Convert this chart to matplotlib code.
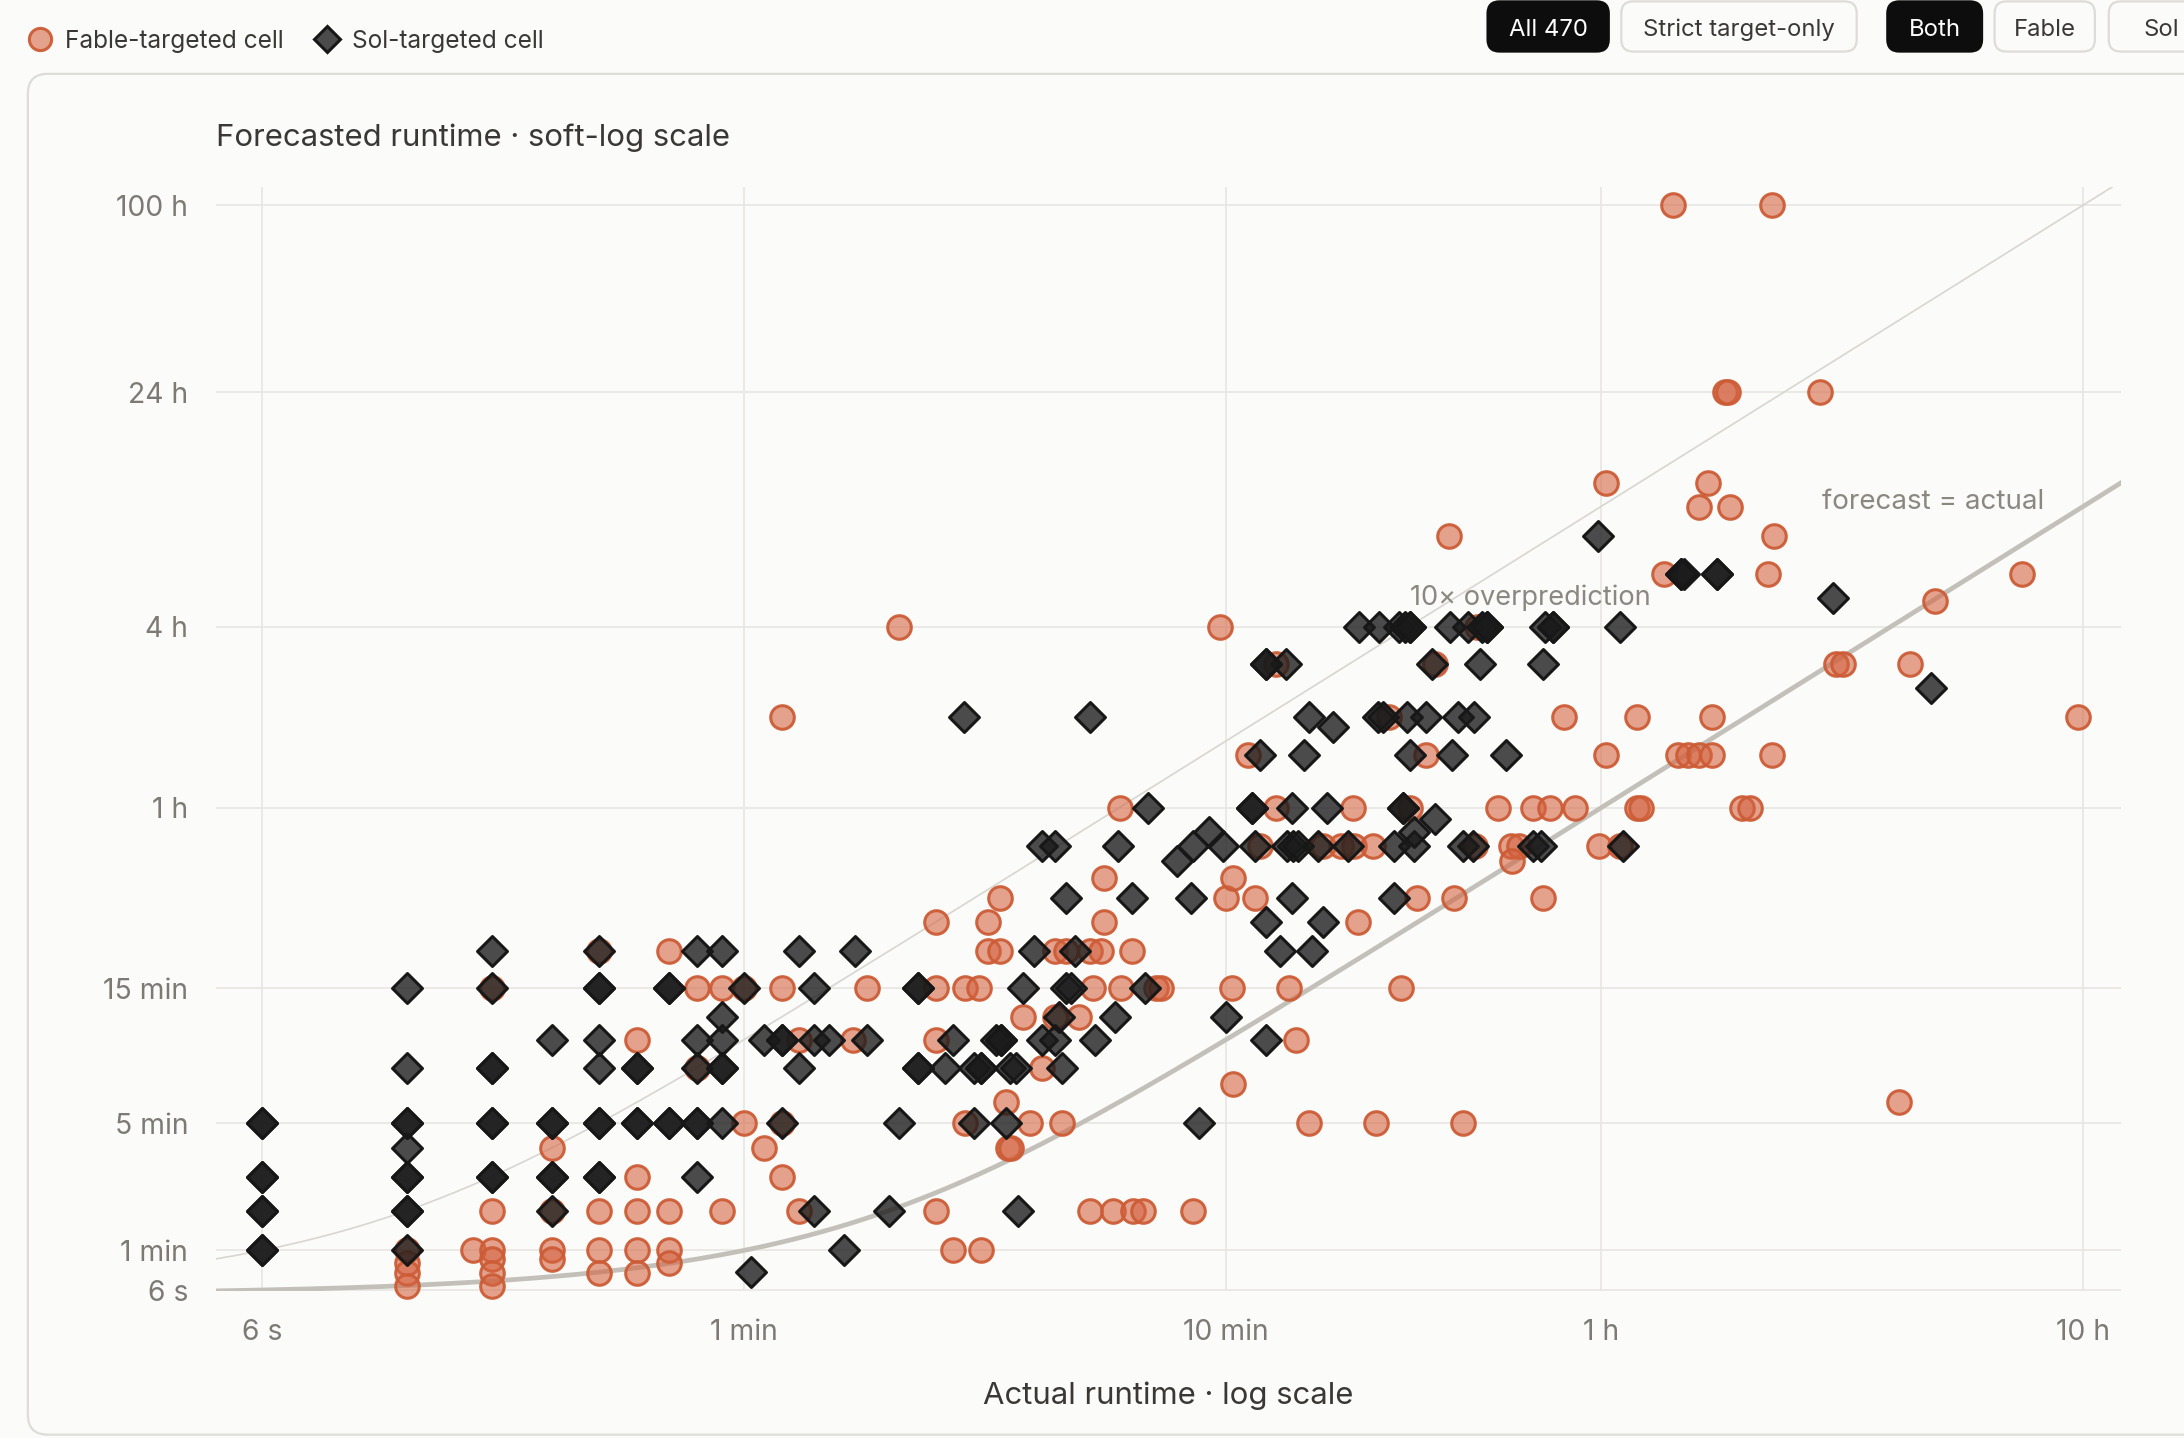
import matplotlib
matplotlib.use("Agg")
import matplotlib.pyplot as plt
from matplotlib.lines import Line2D
from matplotlib.patches import FancyBboxPatch
from matplotlib.ticker import NullLocator
import numpy as np

plt.rcParams['font.family'] = ['Inter', 'DejaVu Sans']

# ---- data (seconds) ----
fable_actual = [
    12, 12, 12, 12, 16.5, 18, 18, 18, 18, 18, 18, 24, 24, 24, 24,
    30, 30, 30, 30, 36, 36, 36, 36, 36, 42, 42, 42, 42, 48, 48, 54, 54,
    60, 60, 66, 72, 72, 72, 72, 78, 78, 101, 108, 126,
    150, 150, 150, 150, 163, 173, 173, 185, 186, 193, 193, 204, 204,
    210, 212, 215, 228, 235, 250, 265, 265, 275, 280, 298,
    313, 313, 318, 330, 336, 336, 350, 362, 363, 383, 385, 405,
    430, 440, 512, 584, 600, 617, 620, 620, 666,
    690, 708, 762, 762, 810, 838, 894,
    956, 1043, 1100, 1107, 1130, 1213, 1230,
    1307, 1387, 1445, 1494, 1565, 1631,
    1742, 1788, 1864, 1974, 1988, 2202,
    2346, 2430, 2355, 2610, 2736, 2828,
    3024, 3187, 3572, 3690, 3690, 3944,
    4275, 4275, 4360, 4880, 5082,
    5215, 5470, 5768, 6125, 5768, 6000, 6125,
    6500, 6620, 6680, 7060, 7330, 7990,
    8150, 8170, 8230, 10270, 11070, 11440,
    14930, 15750, 17770, 26900, 35200,
]
fable_forecast = [
    60, 43, 29, 12, 60, 900, 120, 60, 48, 29, 11, 240, 120, 60, 48,
    1200, 120, 60, 29, 600, 180, 120, 60, 29, 1200, 120, 60, 43, 900, 480, 900, 120,
    900, 300, 240, 7200, 900, 300, 180, 600, 120, 600, 900, 14400,
    1500, 900, 600, 120, 60, 900, 300, 900, 60, 1500, 1200, 1800, 1200,
    360, 240, 240, 720, 300, 480, 1200, 720, 300, 1200, 720,
    1200, 120, 900, 1200, 2100, 1500, 120, 3600, 900, 1200, 120, 120,
    900, 900, 120, 14400, 1800, 900, 420, 2100, 5400,
    1800, 2700, 10800, 3600, 900, 600, 300,
    2700, 2700, 3600, 2700, 1500, 2700, 300,
    7200, 900, 3600, 1800, 5400, 10800,
    28800, 1800, 300, 2700, 14400, 3600,
    2700, 2700, 2400, 3600, 1800, 3600,
    7200, 3600, 2700, 43200, 5400, 2700,
    7200, 3600, 3600, 21600, 360000,
    5400, 5400, 5400, 5400, 36000, 43200, 7200,
    86400, 86400, 36000, 3600, 3600, 21600,
    360000, 5400, 28800, 86400, 10800, 10800,
    360, 10800, 17500, 21600, 7200,
]

sol_actual = [
    6, 6, 6, 6, 12, 12, 12, 12, 12, 12, 12, 18, 18, 18, 18, 18,
    24, 24, 24, 24, 30, 30, 30, 30, 30, 30, 36, 36, 42, 42,
    48, 48, 48, 48, 48, 54, 54, 54, 54, 54,
    60, 62, 66, 72, 72, 78, 78, 84, 84, 84, 90, 97, 102, 108,
    120, 126, 138, 138, 157, 163, 172, 180, 180, 186, 200, 205, 210, 214, 220,
    222, 228, 240, 250, 250, 265, 265, 270, 275, 280, 286, 280, 292, 313, 322, 353,
    359, 384, 408, 413, 475, 512, 508, 529, 554, 591, 600, 681, 690, 708,
    728, 728, 728, 778, 800, 804, 826, 847, 822, 822, 870, 894, 906, 931, 956, 975,
    1001, 1078, 1136, 1239, 1273, 1250, 1343, 1343, 1370, 1410, 1445, 1397, 1425, 1445,
    1474, 1474, 1565, 1608, 1631, 1750, 1772, 1824, 1864, 1956, 1910, 1960, 2019,
    2040, 2094, 2286, 2610, 2700, 2736, 2754, 2867,
    3547, 3944, 4000, 5290, 5360, 6280, 10920, 17420,
    # repeated cells (stacked markers that print solid black)
    6, 6, 6, 6, 12, 12, 12, 18, 18, 18, 24, 24, 30, 30, 30, 36, 36, 42, 42,
    48, 54, 72, 138, 138, 186, 205, 681, 728, 1397, 1445, 2094, 2867, 5290, 6280,
]
sol_forecast = [
    300, 180, 120, 60, 900, 480, 300, 240, 180, 120, 60, 1200, 900, 480, 300, 180,
    600, 300, 180, 120, 1200, 900, 600, 480, 300, 180, 480, 300, 900, 300,
    1200, 600, 480, 300, 180, 1200, 720, 600, 480, 300,
    900, 30, 600, 600, 300, 1200, 480, 900, 600, 120, 600, 60, 1200, 600,
    120, 300, 900, 480, 480, 600, 7200, 480, 300, 480, 600, 600, 300, 480, 480,
    120, 900, 1200, 600, 2700, 600, 2700, 720, 480, 900, 900, 1800, 1200, 7200, 600, 720,
    2700, 1800, 900, 3600, 2400, 2700, 1800, 300, 3000, 2700, 720, 3600, 2700, 5400,
    600, 1500, 10800, 1200, 10800, 2700, 2700, 2700, 1800, 3600, 5400, 7200, 1200, 2700, 1500, 3600,
    6660, 2700, 14400, 7200, 7200, 14400, 1800, 2700, 14400, 14400, 14400, 3600, 7200, 5400,
    2700, 3000, 7200, 10800, 3300, 14400, 5400, 7200, 2700, 2700, 14400, 7200, 10800,
    14400, 14400, 5400, 2700, 2700, 10800, 14400, 14400,
    28800, 14400, 2700, 21600, 21600, 21600, 17900, 9000,
    300, 180, 120, 60, 300, 180, 120, 480, 300, 180, 300, 180, 900, 300, 180, 480, 300, 900, 300,
    300, 480, 600, 900, 480, 480, 600, 3600, 10800, 3600, 14400, 14400, 14400, 21600, 21600,
]

x_ticks = [6, 60, 600, 3600, 36000]
x_tick_labels = ['6 s', '1 min', '10 min', '1 h', '10 h']
y_ticks = [6, 60, 300, 900, 3600, 14400, 86400, 360000]
y_tick_labels = ['6 s', '1 min', '5 min', '15 min', '1 h', '4 h', '24 h', '100 h']

filter_buttons = ['All 470', 'Strict target-only', 'Both', 'Fable', 'Sol']
button_active = [True, False, True, False, False]

# ---- styling ----
BG = '#fbfbf9'
ORANGE_FILL = (0.83, 0.39, 0.25, 0.58)
ORANGE_EDGE = (0.80, 0.36, 0.21, 0.95)
DIAMOND_FILL = (0.10, 0.10, 0.10, 0.78)
DIAMOND_EDGE = (0.09, 0.09, 0.09, 1.0)
TEXT = '#3a3835'
MUTED = '#7d7a75'
GRID = '#e8e6e2'

W, H = 10.92, 7.19
S = 2184 / 1568 / 200  # reference display px -> inches


def inch(x, y):
    return x * S, H - y * S


fig = plt.figure(figsize=(W, H), dpi=200, facecolor=BG)

# card
cx, cy = inch(20, 1030)
card = FancyBboxPatch((cx, cy), W + 0.5 - cx, (1030 - 53) * S,
                      boxstyle='round,pad=0,rounding_size=0.1',
                      transform=fig.dpi_scale_trans, facecolor=BG,
                      edgecolor='#dddcd7', linewidth=0.8, zorder=0)
fig.add_artist(card)

# filter buttons
btn_x = [(1068, 1155), (1164, 1333), (1355, 1423), (1432, 1504), (1514, 1590)]
for (x0, x1), label, active in zip(btn_x, filter_buttons, button_active):
    bx, by = inch(x0, 37)
    fig.add_artist(FancyBboxPatch((bx, by), (x1 - x0) * S, 36 * S,
                                  boxstyle='round,pad=0,rounding_size=0.06',
                                  transform=fig.dpi_scale_trans,
                                  facecolor='#0d0d0d' if active else BG,
                                  edgecolor='#0d0d0d' if active else '#dddcd7',
                                  linewidth=0.8))
    tx, ty = inch((x0 + x1) / 2, 21.5)
    fig.text(tx / W, ty / H, label, ha='center', va='center', fontsize=8.6,
             color='white' if active else TEXT)

# legend
lx, ly = inch(29, 28)
fig.add_artist(Line2D([lx], [ly], transform=fig.dpi_scale_trans, marker='o',
                      markersize=8, markerfacecolor=ORANGE_FILL,
                      markeredgecolor=ORANGE_EDGE, markeredgewidth=1.1, linestyle='none'))
tx, ty = inch(47, 30)
fig.text(tx / W, ty / H, 'Fable-targeted cell', ha='left', va='center',
         fontsize=8.8, color=TEXT)
lx, ly = inch(235, 28)
fig.add_artist(Line2D([lx], [ly], transform=fig.dpi_scale_trans, marker='D',
                      markersize=6.6, markerfacecolor=DIAMOND_FILL,
                      markeredgecolor=DIAMOND_EDGE, markeredgewidth=1.1, linestyle='none'))
tx, ty = inch(253, 30)
fig.text(tx / W, ty / H, 'Sol-targeted cell', ha='left', va='center',
         fontsize=8.8, color=TEXT)

# ---- axes ----
ax = fig.add_axes([155 / 1568, 1 - 926.6 / 1032, 1368 / 1568, 792.6 / 1032])
ax.set_facecolor('none')
ax.set_xscale('log')
ax.set_yscale('asinh', linear_width=175)
xmin, xmax = 4.82, 43270
ax.set_xlim(xmin, xmax)
ax.set_ylim(4.5, 415000)
for sp in ax.spines.values():
    sp.set_visible(False)

ax.set_xticks(x_ticks, x_tick_labels)
ax.set_yticks(y_ticks, y_tick_labels)
ax.xaxis.set_minor_locator(NullLocator())
ax.yaxis.set_minor_locator(NullLocator())
ax.tick_params(axis='both', length=0, labelsize=10.2, labelcolor=MUTED)
ax.tick_params(axis='x', pad=10)
ax.tick_params(axis='y', pad=10)
ax.grid(True, color=GRID, linewidth=0.6, zorder=0)
ax.set_axisbelow(True)

xs = np.geomspace(xmin, xmax, 400)
ax.plot(xs, xs, color='#c3c0ba', linewidth=1.7, zorder=2)
ax.plot(xs, 10 * xs, color='#d9d6d1', linewidth=0.6, zorder=2)

ax.scatter(fable_actual, fable_forecast, s=72, marker='o', facecolor=ORANGE_FILL,
           edgecolor=ORANGE_EDGE, linewidth=1.1, zorder=3, clip_on=False)
ax.scatter(sol_actual, sol_forecast, s=58, marker='D', facecolor=DIAMOND_FILL,
           edgecolor=DIAMOND_EDGE, linewidth=1.1, zorder=4, clip_on=False)

ax.text((1308 - 155) / 1368, (926.6 - 360) / 792.6, 'forecast = actual',
        transform=ax.transAxes, ha='left', va='center', fontsize=10, color='#8b8781')
ax.text((1012 - 155) / 1368, (926.6 - 429) / 792.6, '10× overprediction',
        transform=ax.transAxes, ha='left', va='center', fontsize=9.8, color='#8b8781')

fig.text(155 / 1568, 1 - 99 / 1032, 'Forecasted runtime · soft-log scale',
         ha='left', va='center', fontsize=11.2, color=TEXT)
fig.text(839 / 1568, 1 - 1002 / 1032, 'Actual runtime · log scale',
         ha='center', va='center', fontsize=11.2, color=TEXT)

fig.savefig('out.png', dpi=200, facecolor=BG)
